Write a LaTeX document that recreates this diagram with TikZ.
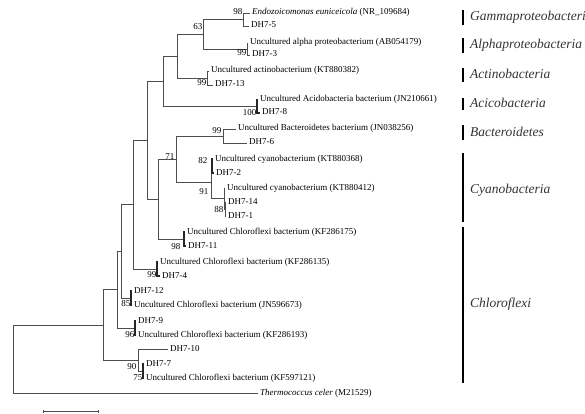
\documentclass[tikz,border=0pt]{standalone}
\usepackage{fontspec}
\setmainfont{Liberation Serif}
\usepackage{tikz}
\usetikzlibrary{arrows.meta}
\definecolor{treegray}{HTML}{4D4D4D}
\definecolor{cladegray}{HTML}{333333}
\tikzset{
  branch/.style={draw=treegray, line width=0.7pt},
  zerobranch/.style={draw=black!85, line width=1.4pt},
  leaf/.style={anchor=west, inner xsep=2pt, inner ysep=0pt, text height=6pt, text depth=2pt,
               font=\fontsize{9}{10}\selectfont},
  boot/.style={anchor=east, inner xsep=0.5pt, inner ysep=0pt, text height=6pt, text depth=2pt,
               font=\fontsize{9}{10}\selectfont},
  cladebar/.style={draw=black, line width=2.2pt},
  clade/.style={anchor=west, inner sep=0pt, text=cladegray, font=\fontsize{13.5}{15}\selectfont\itshape},
}

\begin{document}
\begin{tikzpicture}[x=1pt, y=-1pt]
  \useasboundingbox (0,0) rectangle (585,414);

  \coordinate (root) at (13,359);
  \coordinate (nI) at (103,325);
  \coordinate (nH) at (117,289.5);
  \coordinate (nG) at (121,251);
  \coordinate (nD) at (133,204.5);
  \coordinate (nC) at (147,140);
  \coordinate (nA) at (163,81);
  \coordinate (nB) at (177,56);
  \coordinate (n63) at (203,34);
  \coordinate (n98a) at (243,19.5);
  \coordinate (nAlpha) at (247,49);
  \coordinate (nActino) at (207,78);
  \coordinate (nAcido) at (257,106.5);
  \coordinate (nE) at (158,199);
  \coordinate (n71) at (176,159);
  \coordinate (nBact) at (223,136);
  \coordinate (n91) at (211,182);
  \coordinate (n82) at (212,166);
  \coordinate (nCy2) at (224,198.5);
  \coordinate (n88) at (225,209);
  \coordinate (nKF175) at (184,239);
  \coordinate (nKF135) at (157,269);
  \coordinate (n85) at (131,298);
  \coordinate (n96) at (135,328);
  \coordinate (n90) at (138,360);
  \coordinate (n75) at (143,371);

  \node[leaf] (endo) at (250,13) {\textit{Endozoicomonas euniceicola} (NR\_109684)};
  \node[leaf] (dh75) at (249,26) {DH7-5};
  \node[leaf] (alpha) at (248,43) {Uncultured alpha proteobacterium (AB054179)};
  \node[leaf] (dh73) at (250,55) {DH7-3};
  \node[leaf] (actino) at (209,71) {Uncultured actinobacterium (KT880382)};
  \node[leaf] (dh713) at (213,85) {DH7-13};
  \node[leaf] (acido) at (258,100) {Uncultured Acidobacteria bacterium (JN210661)};
  \node[leaf] (dh78) at (260,113) {DH7-8};
  \node[leaf] (bact) at (236,129) {Uncultured Bacteroidetes bacterium (JN038256)};
  \node[leaf] (dh76) at (247,143) {DH7-6};
  \node[leaf] (cyano1) at (213,159) {Uncultured cyanobacterium (KT880368)};
  \node[leaf] (dh72) at (214,173) {DH7-2};
  \node[leaf] (cyano2) at (225,188) {Uncultured cyanobacterium (KT880412)};
  \node[leaf] (dh714) at (226,202) {DH7-14};
  \node[leaf] (dh71) at (226,216) {DH7-1};
  \node[leaf] (kf175) at (185,232) {Uncultured Chloroflexi bacterium (KF286175)};
  \node[leaf] (dh711) at (186,246) {DH7-11};
  \node[leaf] (kf135) at (158,262) {Uncultured Chloroflexi bacterium (KF286135)};
  \node[leaf] (dh74) at (160,276) {DH7-4};
  \node[leaf] (dh712) at (132,291) {DH7-12};
  \node[leaf] (jn673) at (132,305) {Uncultured Chloroflexi bacterium (JN596673)};
  \node[leaf] (dh79) at (136,321) {DH7-9};
  \node[leaf] (kf193) at (136,335) {Uncultured Chloroflexi bacterium (KF286193)};
  \node[leaf] (dh710) at (168,349) {DH7-10};
  \node[leaf] (dh77) at (144,364) {DH7-7};
  \node[leaf] (kf121) at (144,378) {Uncultured Chloroflexi bacterium (KF597121)};
  \node[leaf] (thermo) at (258,393) {\textit{Thermococcus celer} (M21529)};

  \draw[branch] (root) |- (nI) (root) |- (thermo.west);
  \draw[branch] (nI) |- (nH) (nI) |- (n90);
  \draw[branch] (nH) |- (nG) (nH) |- (n96);
  \draw[branch] (nG) |- (nD) (nG) |- (n85);
  \draw[branch] (nD) |- (nC) (nD) |- (nKF135);
  \draw[branch] (nC) |- (nA) (nC) |- (nE);
  \draw[branch] (nA) |- (nB) (nA) |- (nAcido);
  \draw[branch] (nB) |- (n63) (nB) |- (nActino);
  \draw[branch] (n63) |- (n98a) (n63) |- (nAlpha);
  \draw[branch] (n98a) |- (endo.west) (n98a) |- (dh75.west);
  \draw[branch] (nAlpha) |- (alpha.west) (nAlpha) |- (dh73.west);
  \draw[branch] (nActino) |- (actino.west) (nActino) |- (dh713.west);
  \draw[zerobranch] (nAcido) |- (acido.west) (nAcido) |- (dh78.west);
  \draw[branch] (nE) |- (n71) (nE) |- (nKF175);
  \draw[branch] (n71) |- (nBact) (n71) |- (n91);
  \draw[branch] (nBact) |- (bact.west) (nBact) |- (dh76.west);
  \draw[branch] (n91) |- (n82) (n91) |- (nCy2);
  \draw[zerobranch] (n82) |- (cyano1.west) (n82) |- (dh72.west);
  \draw[branch] (nCy2) |- (cyano2.west) (nCy2) |- (n88);
  \draw[branch] (n88) |- (dh714.west) (n88) |- (dh71.west);
  \draw[zerobranch] (nKF175) |- (kf175.west) (nKF175) |- (dh711.west);
  \draw[zerobranch] (nKF135) |- (kf135.west) (nKF135) |- (dh74.west);
  \draw[zerobranch] (n85) |- (dh712.west) (n85) |- (jn673.west);
  \draw[zerobranch] (n96) |- (dh79.west) (n96) |- (kf193.west);
  \draw[branch] (n90) |- (dh710.west) (n90) |- (n75);
  \draw[zerobranch] (n75) |- (dh77.west) (n75) |- (kf121.west);

  \node[boot] (b98a) at (243,13) {98};
  \node[boot] (b63) at (203,28) {63};
  \node[boot] (b99alpha) at (247,54) {99};
  \node[boot] (b99actino) at (207,84) {99};
  \node[boot] (b100) at (257,114) {100};
  \node[boot] (b99bact) at (222,132) {99};
  \node[boot] (b71) at (175,157) {71};
  \node[boot] (b82) at (208,161) {82};
  \node[boot] (b91) at (209,192) {91};
  \node[boot] (b88) at (224,210) {88};
  \node[boot] (b98b) at (181,247) {98};
  \node[boot] (b99c) at (157,275) {99};
  \node[boot] (b85) at (131,304) {85};
  \node[boot] (b96) at (135,335) {96};
  \node[boot] (b90) at (137,367) {90};
  \node[boot] (b75) at (143,378) {75};

  \draw[cladebar] (463,10) -- (463,25);
  \draw[cladebar] (463,38) -- (463,53);
  \draw[cladebar] (463,68) -- (463,82);
  \draw[cladebar] (463,98) -- (463,110);
  \draw[cladebar] (463,125) -- (463,140);
  \draw[cladebar] (463,153) -- (463,222);
  \draw[cladebar] (463,227) -- (463,383);
  \node[clade] (gamma) at (470,17) {Gammaproteobacteri};
  \node[clade] (alphaproteo) at (470,45) {Alphaproteobacteria};
  \node[clade] (actinob) at (470,74) {Actinobacteria};
  \node[clade] (acicob) at (470,103) {Acicobacteria};
  \node[clade] (bacteroid) at (470,132) {Bacteroidetes};
  \node[clade] (cyanob) at (470,190) {Cyanobacteria};
  \node[clade] (chloro) at (470,304) {Chloroflexi};

  \coordinate (sbleft) at (43,411.5);
  \coordinate (sbright) at (99,411.5);
  \draw[branch, {Bar[width=2.5pt]}-{Bar[width=2.5pt]}] (sbleft) -- (sbright);
\end{tikzpicture}
\end{document}
